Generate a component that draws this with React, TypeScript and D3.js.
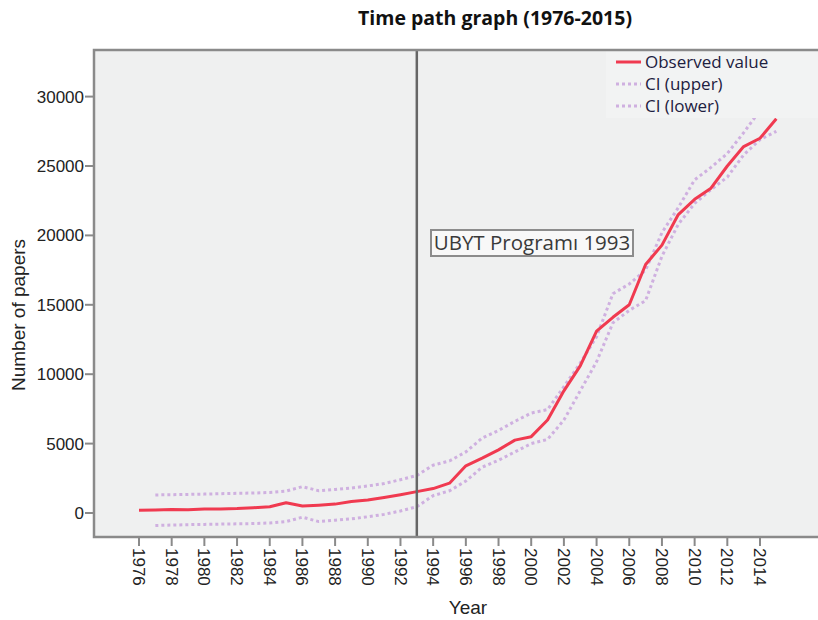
import * as d3 from "d3";
import * as React from "react";

// observed series, 1976-2015
const years = d3.range(1976, 2016);
const observed = [
  200, 220, 250, 230, 290, 290, 320, 380, 450, 740, 500, 560, 640, 830, 940,
  1120, 1320, 1540, 1760, 2150, 3400, 3950, 4550, 5250, 5500, 6700, 8800,
  10600, 13100, 14100, 15000, 17900, 19300, 21500, 22600, 23400, 25000, 26400,
  27000, 28400,
];

// confidence band starts one year later
const ciYears = d3.range(1977, 2016);
const ciUpper = [
  1300, 1320, 1340, 1360, 1390, 1420, 1440, 1480, 1580, 1900, 1600, 1700,
  1800, 1950, 2120, 2400, 2700, 3450, 3750, 4400, 5400, 5950, 6600, 7200, 7450,
  9100, 10800, 12700, 15800, 16500, 17500, 20200, 22000, 24000, 24900, 25900,
  27400, 29000, 30000,
];
const ciLower = [
  -900, -870, -840, -820, -800, -780, -760, -720, -620, -300, -620, -520, -420,
  -270, -100, 150, 450, 1250, 1600, 2300, 3300, 3800, 4400, 5000, 5300, 6700,
  8800, 10900, 13700, 14600, 15300, 18500, 20800, 22300, 23300, 24200, 25800,
  26900, 27500,
];

const xTicks = d3.range(1976, 2015, 2);
const yTicks = [0, 5000, 10000, 15000, 20000, 25000, 30000];
const markerYear = 1993;
const markerLabel = "UBYT Programı 1993";
const legendItems = ["Observed value", "CI (upper)", "CI (lower)"];

const W = 818;
const H = 620;
const frame = { left: 94, top: 50, right: 818, bottom: 537 };

export default function App() {
  const ref = React.useRef<SVGSVGElement>(null);

  React.useEffect(() => {
    const svg = d3.select(ref.current);
    svg.selectAll("*").remove();

    const x = d3.scaleLinear().domain([1976, 2014]).range([139, 760]);
    const y = d3.scaleLinear().domain([0, 30000]).range([513, 96.6]);

    const axisFont = "'Liberation Sans', Arial, sans-serif";
    const labelFont = "'Open Sans', 'DejaVu Sans', sans-serif";

    svg
      .append("defs")
      .append("clipPath")
      .attr("id", "plotClip")
      .append("rect")
      .attr("x", frame.left)
      .attr("y", frame.top)
      .attr("width", frame.right - frame.left)
      .attr("height", frame.bottom - frame.top);

    // plot background
    svg
      .append("rect")
      .attr("x", frame.left)
      .attr("y", frame.top)
      .attr("width", frame.right - frame.left)
      .attr("height", frame.bottom - frame.top)
      .attr("fill", "#eff0f0");

    // title
    svg
      .append("text")
      .attr("x", 495)
      .attr("y", 25)
      .attr("text-anchor", "middle")
      .attr("font-family", labelFont)
      .attr("font-weight", "bold")
      .attr("font-size", 19.5)
      .attr("fill", "#111")
      .text("Time path graph (1976-2015)");

    // y axis ticks + labels
    const yg = svg.append("g");
    yg.selectAll("line")
      .data(yTicks)
      .enter()
      .append("line")
      .attr("x1", frame.left - 9)
      .attr("x2", frame.left)
      .attr("y1", (d) => y(d))
      .attr("y2", (d) => y(d))
      .attr("stroke", "#8a8a8a")
      .attr("stroke-width", 2);
    yg.selectAll("text")
      .data(yTicks)
      .enter()
      .append("text")
      .attr("x", frame.left - 10)
      .attr("y", (d) => y(d))
      .attr("dy", "0.35em")
      .attr("text-anchor", "end")
      .attr("font-family", axisFont)
      .attr("font-size", 17)
      .attr("fill", "#222")
      .text((d) => String(d));

    // x axis ticks + rotated labels
    const xg = svg.append("g");
    xg.selectAll("line")
      .data(xTicks)
      .enter()
      .append("line")
      .attr("x1", (d) => x(d))
      .attr("x2", (d) => x(d))
      .attr("y1", frame.bottom)
      .attr("y2", frame.bottom + 9)
      .attr("stroke", "#8a8a8a")
      .attr("stroke-width", 2);
    xg.selectAll("text")
      .data(xTicks)
      .enter()
      .append("text")
      .attr(
        "transform",
        (d) => "translate(" + x(d) + "," + (frame.bottom + 11) + ") rotate(90)"
      )
      .attr("dy", "0.35em")
      .attr("font-family", axisFont)
      .attr("font-size", 17)
      .attr("fill", "#222")
      .text((d) => String(d));

    // axis titles
    svg
      .append("text")
      .attr("transform", "translate(25,315) rotate(-90)")
      .attr("text-anchor", "middle")
      .attr("font-family", axisFont)
      .attr("font-size", 19)
      .attr("fill", "#222")
      .text("Number of papers");
    svg
      .append("text")
      .attr("x", 468)
      .attr("y", 614)
      .attr("text-anchor", "middle")
      .attr("font-family", axisFont)
      .attr("font-size", 19)
      .attr("fill", "#222")
      .text("Year");

    const plot = svg.append("g").attr("clip-path", "url(#plotClip)");

    const line = d3
      .line<[number, number]>()
      .x((d) => x(d[0]))
      .y((d) => y(d[1]));

    const ciStyle = (sel: any) =>
      sel
        .attr("fill", "none")
        .attr("stroke", "#cfb0e0")
        .attr("stroke-width", 3)
        .attr("stroke-dasharray", "3,3");

    plot
      .append("path")
      .datum(ciYears.map((yr, i) => [yr, ciUpper[i]] as [number, number]))
      .attr("d", line)
      .call(ciStyle);
    plot
      .append("path")
      .datum(ciYears.map((yr, i) => [yr, ciLower[i]] as [number, number]))
      .attr("d", line)
      .call(ciStyle);
    plot
      .append("path")
      .datum(years.map((yr, i) => [yr, observed[i]] as [number, number]))
      .attr("d", line)
      .attr("fill", "none")
      .attr("stroke", "#f03a50")
      .attr("stroke-width", 3)
      .attr("stroke-linejoin", "round");

    // 1993 reference line
    plot
      .append("line")
      .attr("x1", x(markerYear))
      .attr("x2", x(markerYear))
      .attr("y1", frame.top)
      .attr("y2", frame.bottom)
      .attr("stroke", "#666")
      .attr("stroke-width", 2.5);

    // marker label box
    const lbl = svg.append("g");
    lbl
      .append("rect")
      .attr("x", 431)
      .attr("y", 230)
      .attr("width", 202)
      .attr("height", 26)
      .attr("fill", "#f8f8f8")
      .attr("stroke", "#8c8c8c")
      .attr("stroke-width", 2);
    lbl
      .append("text")
      .attr("x", 532)
      .attr("y", 243)
      .attr("dy", "0.36em")
      .attr("text-anchor", "middle")
      .attr("font-family", labelFont)
      .attr("font-size", 20.5)
      .attr("fill", "#3a3a3a")
      .text(markerLabel);

    // legend, drawn over the lines
    const lg = svg.append("g");
    lg.append("rect")
      .attr("x", 606)
      .attr("y", frame.top + 1)
      .attr("width", frame.right - 606)
      .attr("height", 67)
      .attr("fill", "#f2f3f3");
    legendItems.forEach((name, i) => {
      const cy = 62 + i * 22;
      const l = lg
        .append("line")
        .attr("x1", 616)
        .attr("x2", 641)
        .attr("y1", cy)
        .attr("y2", cy);
      if (i === 0) l.attr("stroke", "#f03a50").attr("stroke-width", 3);
      else l.call(ciStyle);
      lg.append("text")
        .attr("x", 645)
        .attr("y", cy)
        .attr("dy", "0.35em")
        .attr("font-family", labelFont)
        .attr("font-size", 17)
        .attr("fill", "#1d2040")
        .text(name);
    });

    // frame (left, top, bottom)
    svg
      .append("path")
      .attr(
        "d",
        "M" + frame.right + "," + frame.top +
          "H" + frame.left +
          "V" + frame.bottom +
          "H" + frame.right
      )
      .attr("fill", "none")
      .attr("stroke", "#8a8a8a")
      .attr("stroke-width", 2.5);
  }, []);

  return (
    <svg
      ref={ref}
      width={W}
      height={H}
      style={{ position: "absolute", left: 0, top: 0, background: "#fff" }}
    />
  );
}
